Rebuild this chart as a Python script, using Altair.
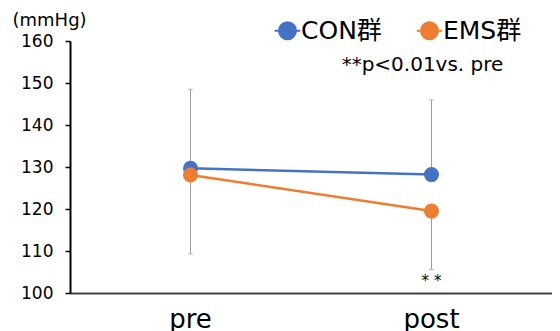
import altair as alt
import pandas as pd

phases = ["pre", "post"]
groups = ["CON群", "EMS群"]
con_mean = [129.7, 128.2]
ems_mean = [128.1, 119.5]
con_err_end = [148.5, 146.0]   # CON: upper SD bar
ems_err_end = [109.3, 105.6]   # EMS: lower SD bar
sig_labels = ["", "* *"]
sig_y = [102.8, 102.8]
note_text = ["**p<0.01vs. pre"]
note_phase = ["post"]
note_y = [154.3]
colors = ["#4472C4", "#ED7D31"]
y_ticks = [100, 110, 120, 130, 140, 150, 160]

FONT = "'DejaVu Sans', 'Noto Sans CJK JP', sans-serif"

df = pd.DataFrame({
    "phase": phases * 2,
    "group": [groups[0]] * 2 + [groups[1]] * 2,
    "mean": con_mean + ems_mean,
    "end": con_err_end + ems_err_end,
})
sig_df = pd.DataFrame({"phase": phases, "label": sig_labels, "y": sig_y})
note_df = pd.DataFrame({"phase": note_phase, "label": note_text, "y": note_y})

x_enc = alt.X("phase:N", sort=phases, title=None,
              axis=alt.Axis(labelAngle=0, labelFontSize=26, labelPadding=13,
                            ticks=False, domainColor="#404040", domainWidth=2,
                            labelColor="#000000", labelFont=FONT))
y_scale = alt.Scale(domain=[100, 160], nice=False, zero=False)
y_enc = alt.Y("mean:Q", scale=y_scale,
              axis=alt.Axis(values=y_ticks, grid=False, title="(mmHg)",
                            titleAngle=0, titleX=-58, titleY=-21,
                            titleAlign="left", titleBaseline="middle",
                            titleFontSize=18, titleFontWeight="normal",
                            titleFont=FONT, titleColor="#000000",
                            labelFontSize=17, labelFont=FONT, labelColor="#000000",
                            labelPadding=12, tickSize=5, tickWidth=1.5,
                            tickColor="#000000", domainColor="#000000",
                            domainWidth=2))
color_scale = alt.Scale(domain=groups, range=colors)
legend = alt.Legend(title=None, orient="none", legendX=205, legendY=-23,
                    direction="horizontal", labelFontSize=25, labelFont=FONT,
                    labelColor="#000000", symbolSize=290,
                    symbolType="M-1.5,0H1.5M1,0A1,1,0,1,1,-1,0A1,1,0,1,1,1,0Z",
                    symbolStrokeWidth=2, symbolOpacity=1, columnPadding=30,
                    labelOffset=1)
color_enc = alt.Color("group:N", scale=color_scale, legend=legend)

base = alt.Chart(df)

err = base.mark_rule(color="#9E9E9E", strokeWidth=1).encode(
    x=x_enc, y=y_enc, y2="end:Q")
caps = base.mark_tick(color="#9E9E9E", size=5, thickness=1).encode(
    x=alt.X("phase:N", sort=phases), y=alt.Y("end:Q", scale=y_scale))
lines = base.mark_line(strokeWidth=2.5).encode(
    x=alt.X("phase:N", sort=phases), y=alt.Y("mean:Q", scale=y_scale),
    color=color_enc)
pts = base.mark_point(filled=True, opacity=1, size=227, shape="circle").encode(
    x=alt.X("phase:N", sort=phases), y=alt.Y("mean:Q", scale=y_scale),
    color=color_enc)
sig = alt.Chart(sig_df).mark_text(fontSize=15, font=FONT, color="#000000").encode(
    x=alt.X("phase:N", sort=phases), y=alt.Y("y:Q", scale=y_scale), text="label:N")
note = alt.Chart(note_df).mark_text(fontSize=20, font=FONT, color="#000000", dx=-9).encode(
    x=alt.X("phase:N", sort=phases), y=alt.Y("y:Q", scale=y_scale), text="label:N")

chart = alt.layer(err, caps, lines, pts, sig, note).properties(
    width=482, height=252,
    autosize=alt.AutoSizeParams(type="none"),
    padding={"left": 62, "top": 33, "right": 0, "bottom": 38},
    background="white",
).configure_view(stroke=None)

chart.save("out.html", embed_options={"renderer": "svg", "actions": False})
